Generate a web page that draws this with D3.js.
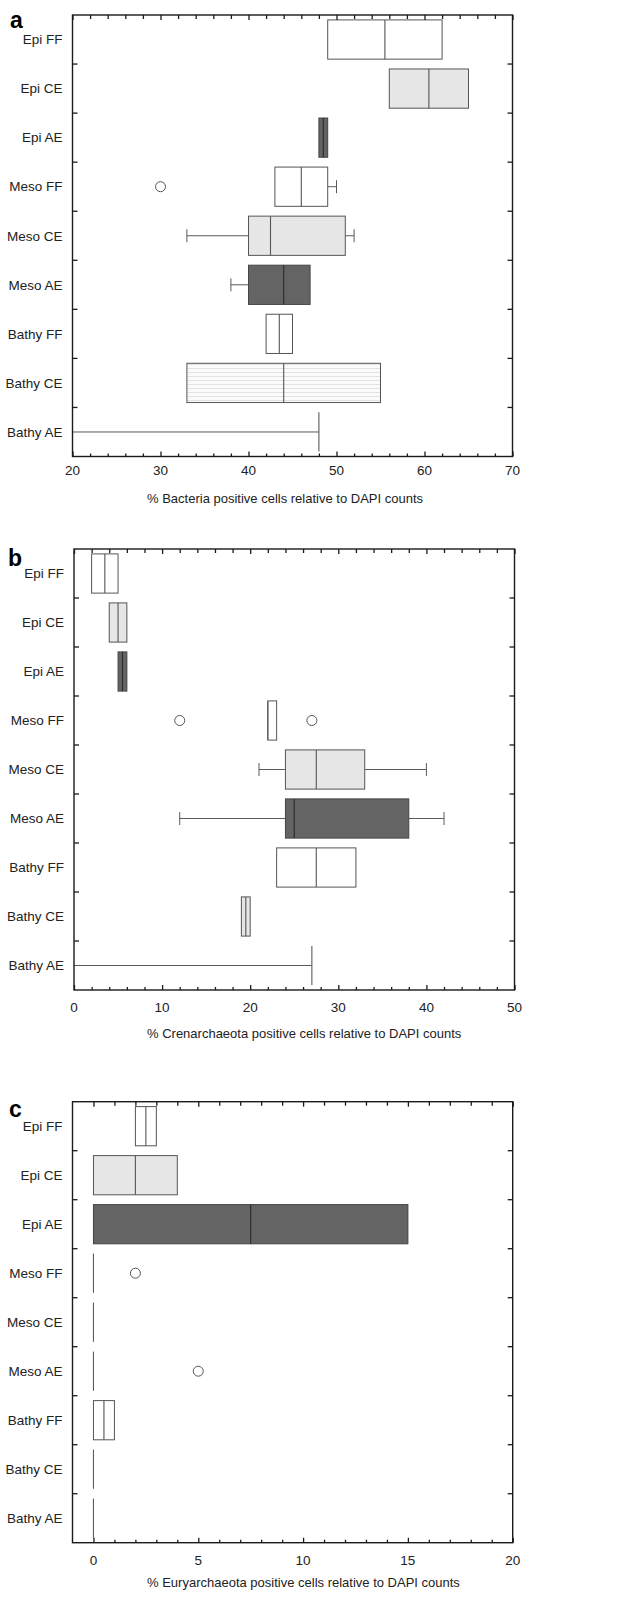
<!DOCTYPE html>
<html><head><meta charset="utf-8">
<script src="https://cdn.jsdelivr.net/npm/d3@7"></script>
<style>
body{margin:0;background:#fff}
text{font-family:"Liberation Sans",Arial,sans-serif;fill:#222}
</style>
</head><body>
<svg id="chart" width="642" height="1597"></svg>
<script>
// ---------- DATA ----------
const categories = ["Epi FF","Epi CE","Epi AE","Meso FF","Meso CE","Meso AE","Bathy FF","Bathy CE","Bathy AE"];

// Panel a: Bacteria
const bacteriaMin    = [49, 56, 48, 43, 33, 38, 42, 33, 20];
const bacteriaQ1     = [49, 56, 48, 43, 40, 40, 42, 33, 48];
const bacteriaMedian = [55.5, 60.5, 48.5, 46, 42.5, 44, 43.5, 44, 48];
const bacteriaQ3     = [62, 65, 49, 49, 51, 47, 45, 55, 48];
const bacteriaMax    = [62, 65, 49, 50, 52, 47, 45, 55, 48];
const bacteriaOutliers = [[], [], [], [30], [], [], [], [], []];
const bacteriaTicks  = [20, 30, 40, 50, 60, 70];

// Panel b: Crenarchaeota
const crenMin    = [2, 4, 5, 22, 21, 12, 23, 19, 0];
const crenQ1     = [2, 4, 5, 22, 24, 24, 23, 19, 27];
const crenMedian = [3.5, 5, 5.5, 22, 27.5, 25, 27.5, 19.5, 27];
const crenQ3     = [5, 6, 6, 23, 33, 38, 32, 20, 27];
const crenMax    = [5, 6, 6, 23, 40, 42, 32, 20, 27];
const crenOutliers = [[], [], [], [12, 27], [], [], [], [], []];
const crenTicks  = [0, 10, 20, 30, 40, 50];

// Panel c: Euryarchaeota
const euryMin    = [2, 0, 0, 0, 0, 0, 0, 0, 0];
const euryQ1     = [2, 0, 0, 0, 0, 0, 0, 0, 0];
const euryMedian = [2.5, 2, 7.5, 0, 0, 0, 0.5, 0, 0];
const euryQ3     = [3, 4, 15, 0, 0, 0, 1, 0, 0];
const euryMax    = [3, 4, 15, 0, 0, 0, 1, 0, 0];
const euryOutliers = [[], [], [], [2], [], [5], [], [], []];
const euryTicks  = [0, 5, 10, 15, 20];

// ---------- LAYOUT ----------
const panels = [
  {letter:"a", title:"% Bacteria positive cells relative to DAPI counts",
   domain:[20,70], ticks:bacteriaTicks, minorStep:2,
   mn:bacteriaMin, q1:bacteriaQ1, md:bacteriaMedian, q3:bacteriaQ3, mx:bacteriaMax, out:bacteriaOutliers,
   left:72.5, right:512.5, top:15, bottom:456.5, tickY:475, titleY:503, letterX:10, letterY:28, stripe:"Bathy CE"},
  {letter:"b", title:"% Crenarchaeota positive cells relative to DAPI counts",
   domain:[0,50], ticks:crenTicks, minorStep:2,
   mn:crenMin, q1:crenQ1, md:crenMedian, q3:crenQ3, mx:crenMax, out:crenOutliers,
   left:74, right:514.5, top:549, bottom:990, tickY:1012, titleY:1038, letterX:8, letterY:566},
  {letter:"c", title:"% Euryarchaeota positive cells relative to DAPI counts",
   domain:[-1,20], ticks:euryTicks, minorStep:1,
   mn:euryMin, q1:euryQ1, md:euryMedian, q3:euryQ3, mx:euryMax, out:euryOutliers,
   left:72.5, right:512.7, top:1101.7, bottom:1542.7, tickY:1565, titleY:1587, letterX:9, letterY:1117}
];

const svg = d3.select("#chart");
const defs = svg.append("defs");
const pat = defs.append("pattern").attr("id","stripes").attr("patternUnits","userSpaceOnUse")
  .attr("width",6).attr("height",4);
pat.append("rect").attr("width",6).attr("height",4).attr("fill","#fbfbfb");
pat.append("line").attr("x1",0).attr("x2",6).attr("y1",0.5).attr("y2",0.5)
  .attr("stroke","#e2e2e2").attr("stroke-width",1);

function fillFor(cat, p) {
  if (p.stripe === cat) return "url(#stripes)";
  if (cat.endsWith("AE")) return "#646464";
  if (cat.endsWith("CE")) return "#e6e6e6";
  return "#ffffff";
}

panels.forEach(p => {
  const g = svg.append("g");
  const x = d3.scaleLinear().domain(p.domain).range([p.left, p.right]);
  const y = d3.scaleBand().domain(categories).range([p.top, p.bottom]).padding(0);
  const bh = y.bandwidth() * 0.8;
  const boxStroke = "#555";

  categories.forEach((cat, i) => {
    const cy = y(cat) + y.bandwidth() / 2;
    const y0 = cy - bh / 2;
    const sc = "#5a5a5a";
    if (p.mn[i] < p.q1[i]) {
      g.append("line").attr("x1", x(p.mn[i])).attr("x2", x(p.q1[i])).attr("y1", cy).attr("y2", cy)
        .attr("stroke", sc).attr("stroke-width", 1);
      if (x(p.mn[i]) > p.left + 1)
        g.append("line").attr("x1", x(p.mn[i])).attr("x2", x(p.mn[i])).attr("y1", cy - 6.5).attr("y2", cy + 6.5)
          .attr("stroke", sc).attr("stroke-width", 1);
    }
    if (p.mx[i] > p.q3[i]) {
      g.append("line").attr("x1", x(p.q3[i])).attr("x2", x(p.mx[i])).attr("y1", cy).attr("y2", cy)
        .attr("stroke", sc).attr("stroke-width", 1);
      g.append("line").attr("x1", x(p.mx[i])).attr("x2", x(p.mx[i])).attr("y1", cy - 6.5).attr("y2", cy + 6.5)
        .attr("stroke", sc).attr("stroke-width", 1);
    }
    if (p.q3[i] > p.q1[i]) {
      g.append("rect").attr("x", x(p.q1[i])).attr("y", y0)
        .attr("width", x(p.q3[i]) - x(p.q1[i])).attr("height", bh)
        .attr("fill", fillFor(cat, p)).attr("stroke", cat.endsWith("AE") ? "#444" : boxStroke).attr("stroke-width", 1);
      g.append("line").attr("x1", x(p.md[i])).attr("x2", x(p.md[i])).attr("y1", y0).attr("y2", y0 + bh)
        .attr("stroke", cat.endsWith("AE") ? "#2a2a2a" : "#555").attr("stroke-width", 1.1);
    } else {
      g.append("line").attr("x1", x(p.q1[i])).attr("x2", x(p.q1[i])).attr("y1", y0).attr("y2", y0 + bh)
        .attr("stroke", sc).attr("stroke-width", 1.1);
    }
    p.out[i].forEach(v => {
      g.append("circle").attr("cx", x(v)).attr("cy", cy).attr("r", 5)
        .attr("fill", "#fff").attr("stroke", "#555").attr("stroke-width", 1);
    });
  });

  g.append("rect").attr("x", p.left).attr("y", p.top).attr("width", p.right - p.left).attr("height", p.bottom - p.top)
    .attr("fill", "none").attr("stroke", "#1a1a1a").attr("stroke-width", 1.4);

  const minor = d3.range(p.ticks[0], p.domain[1] + 1e-9, p.minorStep).filter(v => !p.ticks.includes(v));
  const bottomMajor = d3.axisBottom(x).tickValues(p.ticks).tickSize(-5).tickFormat(d3.format("d"));
  const bottomMinor = d3.axisBottom(x).tickValues(minor).tickSize(-3).tickFormat("");
  const topMajor = d3.axisTop(x).tickValues(p.ticks).tickSize(-5).tickFormat("");
  const topMinor = d3.axisTop(x).tickValues(minor).tickSize(-4).tickFormat("");
  [[bottomMajor, p.bottom], [bottomMinor, p.bottom], [topMajor, p.top], [topMinor, p.top]].forEach(([ax, yy]) => {
    const a = g.append("g").attr("transform", `translate(0,${yy})`).call(ax);
    a.select(".domain").remove();
    a.selectAll("line").attr("stroke", "#1a1a1a").attr("stroke-width", 1.3);
    a.selectAll("text").remove();
  });
  g.selectAll(null).data(p.ticks).enter().append("text")
    .attr("x", d => x(d)).attr("y", p.tickY).attr("text-anchor", "middle")
    .attr("font-size", 13.5).text(d => d3.format("d")(d));

  const bounds = categories.slice(1).map(c => y(c));
  bounds.forEach(b => {
    g.append("line").attr("x1", p.left).attr("x2", p.left + 5).attr("y1", b).attr("y2", b)
      .attr("stroke", "#1a1a1a").attr("stroke-width", 1.3);
    g.append("line").attr("x1", p.right - 5).attr("x2", p.right).attr("y1", b).attr("y2", b)
      .attr("stroke", "#1a1a1a").attr("stroke-width", 1.3);
  });
  g.selectAll(null).data(categories).enter().append("text")
    .attr("x", p.left - 10).attr("y", d => y(d) + y.bandwidth() / 2 + 4.8)
    .attr("text-anchor", "end").attr("font-size", 13.5).text(d => d);

  g.append("text").attr("x", 147).attr("y", p.titleY)
    .attr("text-anchor", "start").attr("font-size", 13).text(p.title);
  g.append("text").attr("x", p.letterX).attr("y", p.letterY)
    .attr("font-size", 23).attr("font-weight", "bold").style("fill", "#000").text(p.letter);
});
</script>
</body></html>
